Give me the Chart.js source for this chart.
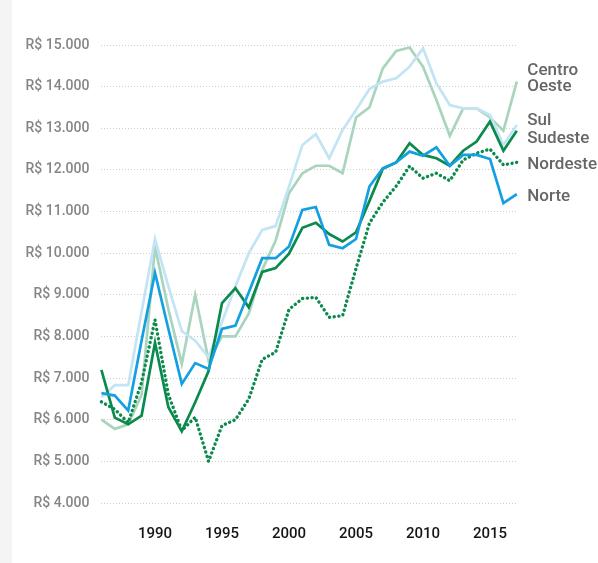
<!DOCTYPE html>
<html>
<head>
<meta charset="utf-8">
<script src="https://cdn.jsdelivr.net/npm/chart.js@4/dist/chart.umd.min.js"></script>
<style>
  html, body { margin: 0; padding: 0; background: #ffffff; }
  #wrap { width: 598px; height: 563px; position: relative; }
</style>
</head>
<body>
<div id="wrap"><canvas id="c" width="598" height="563"></canvas></div>
<script>
const years = [];
for (let y = 1986; y <= 2017; y++) years.push(String(y));

const seriesNames = ["Centro Oeste", "Sul", "Sudeste", "Nordeste", "Norte"];

const centroOeste = [6000, 5780, 5890, 6600, 10150, 8650, 7340, 9000, 7420, 8000, 8000, 8550, 9600, 10300, 11440, 11920, 12100, 12100, 11920, 13260, 13500, 14440, 14860, 14940, 14480, 13680, 12820, 13480, 13480, 13260, 12940, 14120];
const sul = [6540, 6830, 6830, 8600, 10340, 9200, 8130, 7900, 7500, 8350, 9200, 10000, 10560, 10650, 11600, 12600, 12860, 12280, 12960, 13440, 13940, 14120, 14200, 14480, 14920, 14080, 13560, 13480, 13480, 13320, 12600, 13080];
const sudeste = [7200, 6050, 5890, 6100, 7850, 6300, 5720, 6420, 7170, 8800, 9160, 8700, 9550, 9640, 9990, 10610, 10730, 10460, 10280, 10500, 11250, 12030, 12180, 12640, 12360, 12280, 12100, 12460, 12680, 13160, 12460, 12940];
const nordeste = [6430, 6250, 5930, 6900, 8400, 6600, 5740, 6060, 5000, 5860, 6000, 6500, 7450, 7620, 8650, 8910, 8940, 8460, 8500, 9630, 10720, 11220, 11610, 12090, 11800, 11920, 11740, 12240, 12400, 12500, 12120, 12180];
const norte = [6640, 6580, 6220, 7900, 9530, 8180, 6860, 7360, 7220, 8180, 8260, 9060, 9880, 9880, 10160, 11040, 11110, 10200, 10120, 10340, 11600, 12040, 12180, 12440, 12340, 12540, 12100, 12360, 12360, 12260, 11200, 11420];

const yMin = 4000, yMax = 15000, yStep = 1000;
const xTickYears = ["1990", "1995", "2000", "2005", "2010", "2015"];

const endLabels = [
  { lines: ["Centro", "Oeste"], baselines: [75, 90.5] },
  { lines: ["Sul", "Sudeste"], baselines: [124.5, 143] },
  { lines: ["Nordeste"], baselines: [168.5] },
  { lines: ["Norte"], baselines: [201] }
];

function fmtBRL(v) {
  const s = String(Math.round(v)).replace(/\B(?=(\d{3})+(?!\d))/g, ".");
  return "R$ " + s;
}

const bgPlugin = {
  id: 'bg',
  beforeDraw(chart) {
    const ctx = chart.ctx;
    ctx.save();
    ctx.fillStyle = '#ffffff';
    ctx.fillRect(0, 0, chart.width, chart.height);
    ctx.fillStyle = '#f4f4f4';
    ctx.fillRect(0, 0, 12, chart.height);
    ctx.restore();
  }
};

const labelPlugin = {
  id: 'endLabels',
  afterDraw(chart) {
    const ctx = chart.ctx;
    ctx.save();
    ctx.font = '500 17px Roboto';
    ctx.fillStyle = '#666666';
    ctx.textAlign = 'left';
    ctx.textBaseline = 'alphabetic';
    const x = chart.chartArea.right + 10.5;
    endLabels.forEach(g => {
      g.lines.forEach((t, i) => ctx.fillText(t, x, g.baselines[i]));
    });
    ctx.restore();
  }
};

const common = { pointRadius: 0, pointHoverRadius: 0, tension: 0, fill: false, clip: false, borderJoinStyle: 'miter' };

new Chart(document.getElementById('c'), {
  type: 'line',
  data: {
    labels: years,
    datasets: [
      Object.assign({ label: seriesNames[4], data: norte, borderColor: '#14a0e0', borderWidth: 2.7 }, common),
      Object.assign({ label: seriesNames[3], data: nordeste, borderColor: '#0a8a4c', borderWidth: 3.4, borderDash: [0.1, 4.6], borderCapStyle: 'round' }, common),
      Object.assign({ label: seriesNames[2], data: sudeste, borderColor: '#0a8a4c', borderWidth: 2.7 }, common),
      Object.assign({ label: seriesNames[1], data: sul, borderColor: '#c2e4f4', borderWidth: 2.7 }, common),
      Object.assign({ label: seriesNames[0], data: centroOeste, borderColor: '#a9d4bd', borderWidth: 2.7 }, common)
    ]
  },
  options: {
    responsive: false,
    devicePixelRatio: 1,
    animation: false,
    events: [],
    layout: { padding: { left: 0, top: 45, right: 81.2, bottom: 0 } },
    plugins: { legend: { display: false }, tooltip: { enabled: false } },
    scales: {
      x: {
        type: 'category',
        offset: false,
        grid: { display: false, drawTicks: false },
        border: { display: false },
        ticks: {
          autoSkip: false,
          maxRotation: 0,
          minRotation: 0,
          padding: 22,
          color: '#151515',
          font: { family: 'Roboto', size: 15, weight: '500' },
          callback: function(v) { const l = this.getLabelForValue(v); return xTickYears.includes(l) ? l : ''; }
        },
        afterFit(scale) { scale.height = 60; }
      },
      y: {
        min: yMin, max: yMax,
        grid: { color: '#cdcdcd', lineWidth: 1, drawTicks: false },
        border: { display: false, dash: [1, 2] },
        ticks: {
          stepSize: yStep,
          padding: 12,
          color: '#858585',
          font: { family: 'Roboto', size: 14, weight: '500' },
          callback: v => fmtBRL(v)
        },
        afterFit(scale) { scale.width = 101.4; }
      }
    }
  },
  plugins: [bgPlugin, labelPlugin]
});
</script>
</body>
</html>
